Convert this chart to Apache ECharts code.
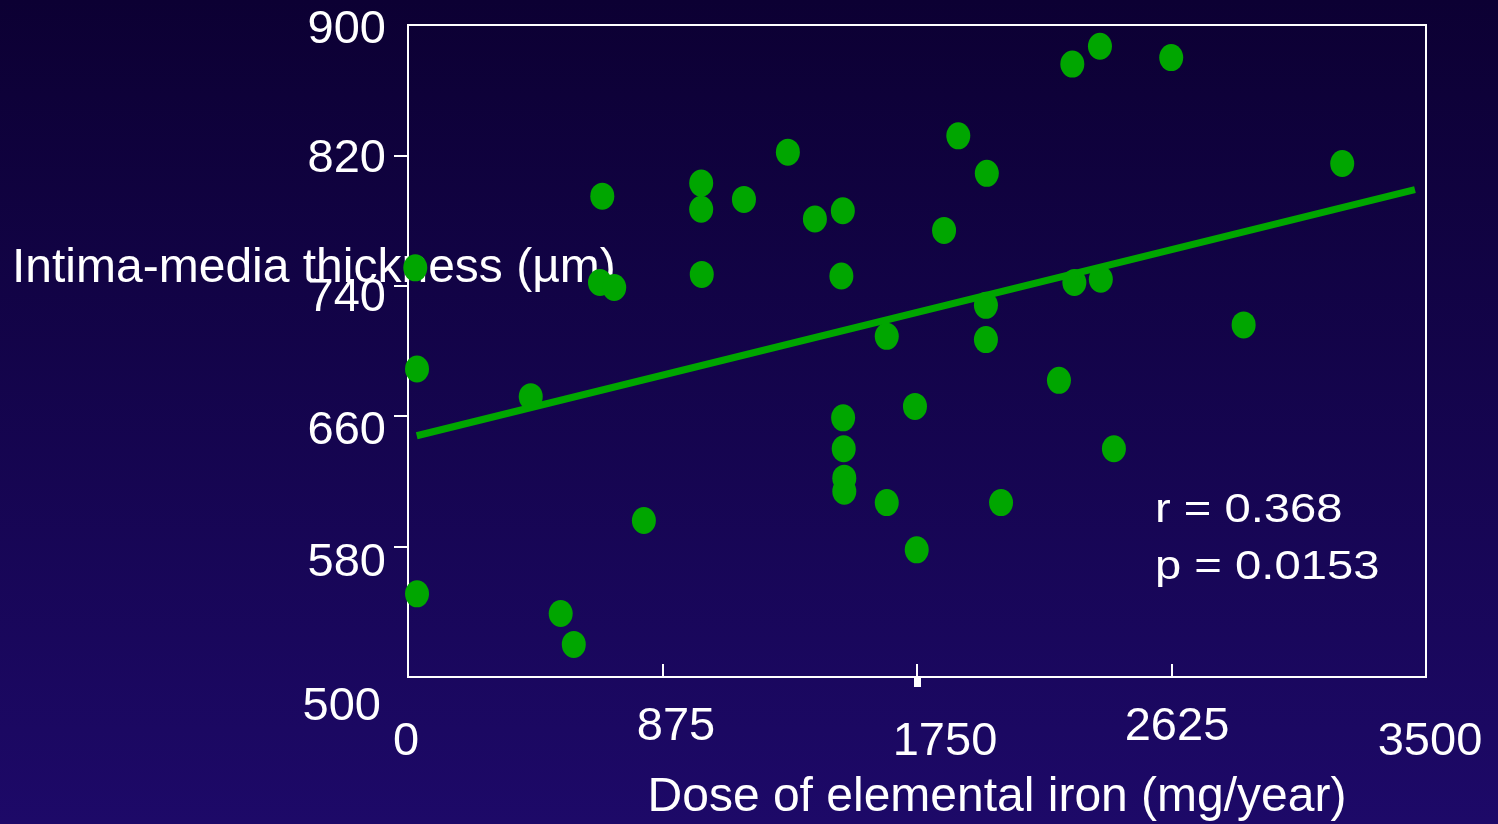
<!DOCTYPE html>
<html><head><meta charset="utf-8">
<script src="https://cdn.jsdelivr.net/npm/echarts@6/dist/echarts.min.js"></script>
<style>html,body{margin:0;padding:0;background:#120248;}#c{width:1498px;height:824px;}</style>
</head><body><div id="c"></div>
<script>
// ---- data ----
const doseX = [25, 31, 31, 422, 525, 570, 660, 709, 668, 811, 1008, 1008, 1010, 1155, 1306, 1399, 1495, 1490, 1496, 1498, 1500, 1500, 1646, 1646, 1743, 1749, 1843, 1892, 1990, 1987, 1987, 2039, 2238, 2284, 2379, 2291, 2382, 2427, 2624, 2873, 3212];
const imtY  = [751, 689, 551, 672, 539, 520, 742, 739, 795, 596, 803, 787, 747, 793, 822, 781, 786, 746, 659, 640, 622, 614, 709, 607, 666, 578, 774, 832, 809, 728, 707, 607, 682, 876, 887, 742, 744, 640, 880, 716, 815];
const fitX = [30, 3462];
const fitY = [648, 799];
const xTickValues = [0, 875, 1750, 2625, 3500];
const yTickValues = [500, 580, 660, 740, 820, 900];
const xTitle = 'Dose of elemental iron (mg/year)';
const yTitle = 'Intima-media thickness (µm)';
const statLines = ['r = 0.368', 'p = 0.0153'];

// ---- styles ----
const FONT = '"Liberation Sans", Arial, sans-serif';
const GREEN = '#00a600';
const xLabelPad = {0: [15, 4, 0, 0], 875: [0, 0, 0, 27], 1750: [15, 0, 0, 56], 2625: [0, 0, 0, 11], 3500: [15, 0, 0, 8]};
const yLabelPad = {500: [60, 5, 0, 0], 580: [32, 0, 0, 0], 660: [30, 0, 0, 0], 740: [24, 0, 0, 0], 820: [8, 0, 0, 0], 900: [10, 0, 0, 0]};

const xRich = {}, yRich = {};
xTickValues.forEach(v => { xRich['v' + v] = {fontSize: 47, fontFamily: FONT, color: '#fff', padding: xLabelPad[v]}; });
yTickValues.forEach(v => { yRich['v' + v] = {fontSize: 47, fontFamily: FONT, color: '#fff', padding: yLabelPad[v]}; });

const points = doseX.map((x, i) => [x, imtY[i]]);
const fitLine = fitX.map((x, i) => [x, fitY[i]]);

const chart = echarts.init(document.getElementById('c'), null, {renderer: 'canvas'});
chart.setOption({
  animation: false,
  backgroundColor: {type: 'linear', x: 0, y: 0, x2: 0, y2: 1,
    colorStops: [{offset: 0, color: '#0c0033'}, {offset: 1, color: '#1d0968'}]},
  grid: {left: 408, right: 72, top: 25, bottom: 147, show: true, borderColor: '#ffffff', borderWidth: 2, backgroundColor: 'transparent'},
  xAxis: [{
    type: 'value', min: 0, max: 3500, interval: 875,
    axisLine: {show: true, lineStyle: {color: '#fff', width: 2}},
    axisTick: {show: true, inside: true, length: 13, lineStyle: {color: '#fff', width: 2}},
    splitLine: {show: false},
    axisLabel: {show: true, margin: 27, customValues: xTickValues,
      formatter: v => '{v' + v + '|' + v + '}', rich: xRich}
  }, {
    type: 'value', min: 0, max: 3500, position: 'bottom', gridIndex: 0,
    axisLine: {show: false}, splitLine: {show: false}, axisLabel: {show: false},
    axisTick: {show: true, inside: false, length: 10, customValues: [xTickValues[2]], lineStyle: {color: '#fff', width: 7}}
  }],
  yAxis: {
    type: 'value', min: 500, max: 900, interval: 80,
    axisLine: {show: true, lineStyle: {color: '#fff', width: 2}},
    axisTick: {show: true, inside: false, length: 14, customValues: yTickValues.slice(1, -1), lineStyle: {color: '#fff', width: 2}},
    splitLine: {show: false},
    axisLabel: {show: true, margin: 22, customValues: yTickValues,
      formatter: v => '{v' + v + '|' + v + '}', rich: yRich}
  },
  series: [{
    type: 'scatter', data: points, z: 2,
    symbol: 'path://M0,13.5A12,13.5 0 1,1 24,13.5A12,13.5 0 1,1 0,13.5Z',
    symbolSize: [24, 27],
    itemStyle: {color: GREEN, opacity: 1}
  }, {
    type: 'line', data: fitLine, z: 3, symbol: 'none',
    lineStyle: {color: GREEN, width: 7}
  }],
  graphic: [
    {type: 'text', x: 12, y: 269, z: 1, style: {text: yTitle, fill: '#fff', fontSize: 48, fontFamily: FONT, verticalAlign: 'middle', align: 'left'}},
    {type: 'text', x: 997, y: 798, z: 1, style: {text: xTitle, fill: '#fff', fontSize: 48, fontFamily: FONT, verticalAlign: 'middle', align: 'center'}},
    {type: 'text', x: 1155, y: 511, z: 1, scaleX: 1.18, style: {text: statLines[0], fill: '#fff', fontSize: 40, fontFamily: FONT, verticalAlign: 'middle', align: 'left'}},
    {type: 'text', x: 1155, y: 568, z: 1, scaleX: 1.18, style: {text: statLines[1], fill: '#fff', fontSize: 40, fontFamily: FONT, verticalAlign: 'middle', align: 'left'}}
  ]
});
</script>
</body></html>
